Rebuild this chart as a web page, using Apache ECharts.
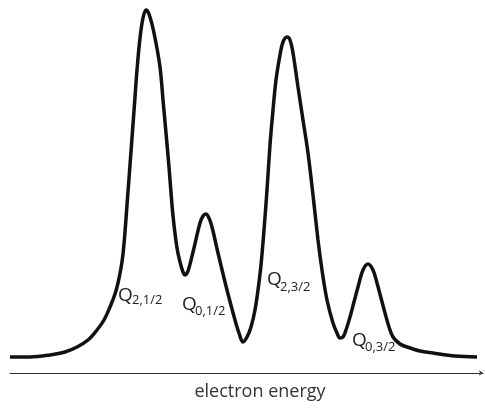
<!DOCTYPE html>
<html>
<head>
<meta charset="utf-8">
<script src="https://cdn.jsdelivr.net/npm/echarts@6/dist/echarts.min.js"></script>
<style>html,body{margin:0;padding:0;background:#fff}#c{width:485px;height:408px}</style>
</head>
<body>
<div id="c"></div>
<script>
// electron energy (arbitrary units) and intensity (arbitrary units)
const energy = [10,30,50,65,77,88,97,104,110,115,118,121,123,125,127,130,132,135,137,140,143,146,149,154,160,163,166,169,172,174,177,180,183,185,188,193,200,203,206,209,212,218,227,235,239,243,247,251,255,258,261,264,267,270,273,276,280,283,287,290,293,298,303,308,313,318,322,327,333,337,340,343,346,350,354,358,363,368,373,377,381,385,389,393,400,407,420,433,455,477];
const intensity = [16,16,18,21,26,33,43,53,66,79,90,105,119,141,168,208,235,276,303,335,355,363,359,340,306,273,240,206,168,148,125,111,101,98,102,121,150,157,159,155,146,120,83,53,40,31,36,46,63,83,108,143,183,228,263,293,318,331,336,333,320,286,253,220,178,133,103,73,50,40,35,36,43,56,71,86,103,109,103,90,75,60,46,36,29,26,22,20,17,16];
const peakLabels = [
  {sub:'2,1/2', q:[118,295.5], s:[132,300]},
  {sub:'0,1/2', q:[182,305], s:[195,311]},
  {sub:'2,3/2', q:[267,280], s:[280,287]},
  {sub:'0,3/2', q:[352,341], s:[365,347]}
];
const axisTitle = 'electron energy';

const FONT = '"Open Sans", "Liberation Sans", sans-serif';
const chart = echarts.init(document.getElementById('c'), null, {renderer:'canvas'});
const graphics = [];
peakLabels.forEach(p => {
  graphics.push({type:'text', style:{text:'Q', x:p.q[0], y:p.q[1], fill:'#222', font:'19px ' + FONT, textAlign:'left', textVerticalAlign:'middle'}});
  graphics.push({type:'text', style:{text:p.sub, x:p.s[0], y:p.s[1], fill:'#222', font:'13px ' + FONT, textAlign:'left', textVerticalAlign:'middle'}});
});
graphics.push({type:'text', style:{text:axisTitle, x:260, y:392, fill:'#333', font:'18px ' + FONT, textAlign:'center', textVerticalAlign:'middle'}});

chart.setOption({
  animation:false,
  grid:{left:10, right:2, top:0, bottom:35},
  xAxis:{type:'value', min:10, max:483,
    axisLine:{show:true, lineStyle:{color:'#333', width:1.2}, symbol:['none','arrow'], symbolSize:[4,4]},
    axisTick:{show:false}, axisLabel:{show:false}, splitLine:{show:false}},
  yAxis:{type:'value', min:0, max:373, show:false},
  series:[{type:'line', data:energy.map((e,i)=>[e,intensity[i]]), showSymbol:false, smooth:0.35,
    lineStyle:{color:'#111', width:3.5}}],
  graphic:graphics
});
</script>
</body>
</html>
